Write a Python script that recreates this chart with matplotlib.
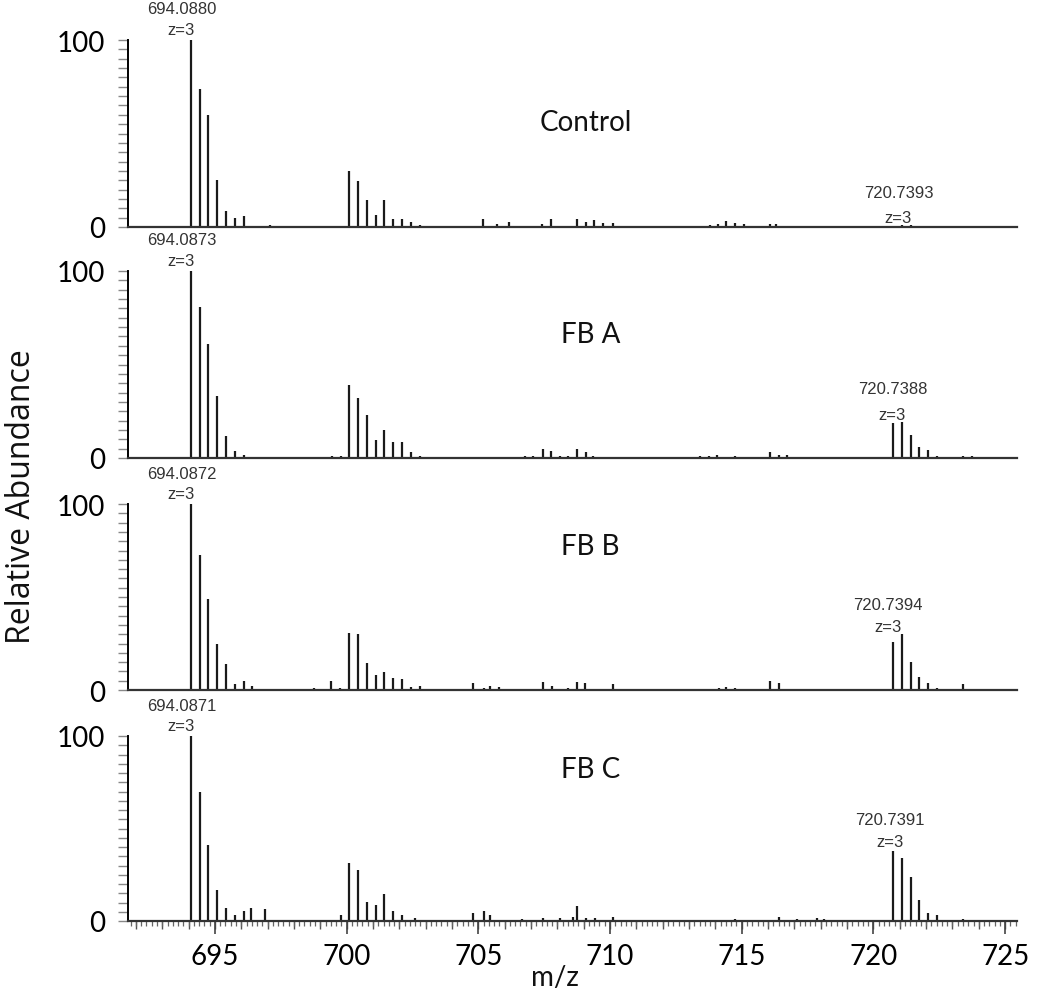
import matplotlib
matplotlib.use("Agg")
import matplotlib.pyplot as plt
from matplotlib.ticker import MultipleLocator, FixedLocator

# ---------------- data ----------------
panel_names = ["Control", "FB A", "FB B", "FB C"]
label_694 = ["694.0880", "694.0873", "694.0872", "694.0871"]
label_720 = ["720.7393", "720.7388", "720.7394", "720.7391"]

ctrl_mz = [694.088, 694.422, 694.756, 695.090, 695.424, 695.758, 696.092, 697.09,
           700.10, 700.43, 700.77, 701.10, 701.43, 701.77, 702.10, 702.43, 702.77,
           705.19, 705.70, 706.18, 707.43, 707.75, 708.11, 708.40, 708.74, 709.08,
           709.41, 709.75, 710.13, 711.08, 713.42, 713.80, 714.10, 714.41, 714.73,
           715.07, 716.08, 716.31, 716.59, 720.74, 721.07, 721.41, 722.03, 723.42,
           724.06, 724.44]
ctrl_int = [100, 74, 60, 25, 8.5, 5, 6, 1,
            30, 24.6, 14.4, 6.4, 14.4, 4.3, 4.3, 2.7, 1,
            4.3, 1.8, 2.5, 1.8, 4.3, 0.7, 0.7, 4.5, 2.7,
            4, 2.1, 2.1, 0.7, 0.7, 1, 1.8, 3, 2,
            1.8, 1.8, 1.5, 0.8, 0.8, 1.2, 1, 0.7, 0.7,
            0.7, 0.7]

fba_mz = [694.087, 694.421, 694.755, 695.089, 695.423, 695.757, 696.091, 697.46,
          698.76, 699.45, 699.78,
          700.10, 700.43, 700.77, 701.10, 701.43, 701.77, 702.10, 702.43, 702.77,
          706.77, 707.08, 707.44, 707.75, 708.09, 708.41, 708.75, 709.09, 709.37,
          709.73, 713.42, 713.74, 714.06, 714.75, 715.39, 716.06, 716.40, 716.72,
          720.07, 720.739, 721.07, 721.41, 721.74, 722.07, 722.41, 722.74, 723.40,
          723.74, 724.03]
fba_int = [100, 81, 61, 33, 11.6, 3.6, 1.6, 0.8,
           0.8, 1.2, 1.2,
           39, 32, 23, 9.8, 15, 8.4, 8.4, 3.4, 1.2,
           1.2, 1.2, 4.8, 3.6, 1.2, 1.2, 5, 3.4, 1,
           0.6, 1.2, 0.9, 1.6, 1.2, 0.5, 3, 1.8, 1.4,
           0.5, 18.7, 19.2, 12.5, 5.9, 4.4, 1, 0.6, 1.2,
           0.9, 0.6]

fbb_mz = [693.66, 694.087, 694.421, 694.755, 695.089, 695.423, 695.757, 696.091,
          696.42, 696.87, 697.36, 698.76, 699.42, 699.75,
          700.10, 700.43, 700.77, 701.10, 701.43, 701.77, 702.10, 702.43, 702.77,
          704.78, 705.22, 705.44, 705.78, 707.44, 707.78, 708.41, 708.75, 709.06,
          709.37, 710.11, 713.15, 713.78, 714.12, 714.41, 714.75, 715.39, 716.06,
          716.40, 716.72, 718.97,
          720.739, 721.07, 721.41, 721.74, 722.07, 722.41, 723.40]
fbb_int = [0.7, 100, 72.5, 48.8, 25, 13.8, 3, 4.8,
           2.2, 0.7, 0.7, 0.9, 4.8, 0.9,
           30.9, 30, 14.4, 7.9, 9.9, 6.6, 5.7, 1.8, 2.2,
           4, 0.9, 2.2, 1.8, 4.3, 2.2, 0.9, 4.3, 4,
           0.7, 3, 0.7, 0.7, 1.1, 1.6, 1.2, 0.7, 4.8,
           3.6, 0.7, 0.7,
           25.8, 30, 15, 7, 4, 1.2, 3]

fbc_mz = [694.087, 694.421, 694.755, 695.089, 695.423, 695.757, 696.091, 696.38,
          696.89, 699.78,
          700.10, 700.43, 700.77, 701.10, 701.43, 701.77, 702.10, 702.59,
          704.78, 705.21, 705.44, 706.64, 707.44, 708.09, 708.60, 708.75, 709.09,
          709.44, 710.13, 714.75, 716.40, 717.10, 717.85, 718.11,
          720.739, 721.07, 721.41, 721.74, 722.07, 722.41, 723.40]
fbc_int = [100, 70, 41, 17, 7, 3, 5.5, 7,
           6.3, 3,
           31.3, 27.5, 10.2, 8.8, 14.5, 5.2, 3, 1.8,
           4.5, 5.5, 3.4, 1.2, 1.6, 1.6, 2.3, 8, 1.4,
           1.8, 2.3, 1, 2, 1, 1.5, 0.9,
           38, 34, 24, 11.3, 4.3, 3.5, 1]

all_mz = [ctrl_mz, fba_mz, fbb_mz, fbc_mz]
all_int = [ctrl_int, fba_int, fbb_int, fbc_int]

x_ticks = [695, 700, 705, 710, 715, 720, 725]

# ---------------- layout ----------------
W, H = 1050, 995
fig = plt.figure(figsize=(W / 100, H / 100), dpi=100)
FONT = ["Lato", "DejaVu Sans"]
ANN_FONT = ["Liberation Sans", "DejaVu Sans"]

left_px, right_px = 128, 1017
panel_px = [(41, 228), (272, 459), (505, 691), (737, 922)]   # (top, bottom)
# 720-label positions in data units (number, z=3)
lab720_y = [(18.7, 5.3), (36.9, 23.5), (46.0, 34.2), (55.0, 42.8)]
lab720_x = [720.95, 720.72, 720.55, 720.62]
name_pos = [(586, 123, "center"), (561, 335, "left"), (561, 547, "left"), (561, 770, "left")]

for i in range(4):
    top, bot = panel_px[i]
    ax = fig.add_axes([left_px / W, 1 - bot / H, (right_px - left_px) / W, (bot - top) / H])
    ax.vlines(all_mz[i], 0, all_int[i], colors="#1a1a1a", linewidth=1.6, clip_on=False)
    ax.set_xlim(691.7, 725.45)
    ax.set_ylim(0, 100)
    for s in ["top", "right"]:
        ax.spines[s].set_visible(False)
    ax.spines["left"].set_linewidth(1.4)
    ax.spines["bottom"].set_linewidth(1.6)
    ax.spines["bottom"].set_color("#333333")

    ax.set_yticks([0, 100])
    ax.set_yticklabels(["0", "100"], fontfamily=FONT, fontsize=20)
    ax.yaxis.set_minor_locator(MultipleLocator(5))
    ax.tick_params(axis="y", which="both", direction="out", length=7, width=1,
                   color="#888888", pad=9.5)

    if i < 3:
        ax.tick_params(axis="x", which="both", bottom=False, labelbottom=False)
    else:
        ax.set_xticks(x_ticks)
        ax.set_xticklabels([str(t) for t in x_ticks], fontfamily=FONT, fontsize=20)
        ax.xaxis.set_minor_locator(MultipleLocator(0.2))
        ax.tick_params(axis="x", which="major", direction="out", length=9, width=1.2,
                       color="#444444", pad=7)
        ax.tick_params(axis="x", which="minor", direction="out", length=3.5, width=0.9,
                       color="#666666")
        sec = ax.secondary_xaxis("bottom")
        sec.xaxis.set_major_locator(FixedLocator(list(range(692, 726))))
        sec.tick_params(axis="x", which="major", direction="out", length=6, width=1,
                        color="#555555", labelbottom=False)
        sec.spines["bottom"].set_visible(False)

    # peak labels
    ax.text(694.088 - 0.36, 116.6, label_694[i], ha="center", va="center",
            fontfamily=ANN_FONT, fontsize=12, color="#333333")
    ax.text(694.088 - 0.36, 105.5, "z=3", ha="center", va="center",
            fontfamily=ANN_FONT, fontsize=12, color="#333333")
    ax.text(lab720_x[i], lab720_y[i][0], label_720[i], ha="center", va="center",
            fontfamily=ANN_FONT, fontsize=12, color="#333333")
    ax.text(lab720_x[i], lab720_y[i][1], "z=3", ha="center", va="center",
            fontfamily=ANN_FONT, fontsize=12, color="#333333")

    nx, ny, ha = name_pos[i]
    fig.text(nx / W, 1 - ny / H, panel_names[i], ha=ha, va="center",
             fontfamily=FONT, fontsize=20, color="#111111")

fig.text(22 / W, 1 - 497 / H, "Relative Abundance",
         rotation=90, ha="center", va="center",
         fontfamily=["Open Sans", "DejaVu Sans"], fontsize=23, color="#111111")
fig.text(555 / W, 1 - 978 / H, "m/z", ha="center", va="center",
         fontfamily=FONT, fontsize=20, color="#111111")

fig.savefig("out.png", dpi=100)
